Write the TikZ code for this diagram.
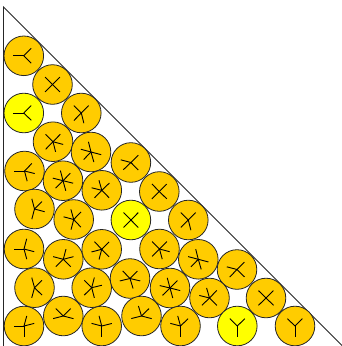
\documentclass[tikz,border=0pt]{standalone}
\usetikzlibrary{calc}
\definecolor{discorange}{RGB}{255,204,0}
\definecolor{discyellow}{RGB}{255,255,0}
\tikzset{
  disc/.style={circle,draw=black!85,line width=0.8pt,fill=discorange,minimum size=39.6pt,inner sep=0pt},
  hidisc/.style={disc,fill=discyellow},
  arm/.style={black,line width=0.9pt},
  wall/.style={black!85,line width=0.8pt}
}
\newcommand\mycontact[2]{\draw[arm] (c#1.center) -- ($(c#1.center)!10.5pt!(c#2.center)$);
  \draw[arm] (c#2.center) -- ($(c#2.center)!10.5pt!(c#1.center)$);}
\newcommand\leftwall[1]{\draw[arm] (c#1.center) -- ++(-10.5,0);}
\newcommand\hypwall[1]{\draw[arm] (c#1.center) -- ++(7.42,-7.42);}
\newcommand\bottomwall[1]{\draw[arm] (c#1.center) -- ++(0,10.5);}
\begin{document}
\begin{tikzpicture}[x=1pt,y=-1pt]
\useasboundingbox (0,0) rectangle (341,346);
\coordinate (A) at (3.5,7);
\coordinate (B) at (3.5,347.4);
\coordinate (C) at (343.9,347.4);
\draw[wall] (A) -- (B) -- (C) -- cycle;
\node[disc] (c1) at (23.8,55.8) {};
\node[disc] (c2) at (52.5,84.5) {};
\node[hidisc] (c3) at (23.8,113) {};
\node[disc] (c4) at (81.3,113) {};
\node[disc] (c5) at (53,141.7) {};
\node[disc] (c6) at (91,152) {};
\node[disc] (c7) at (130.9,162.5) {};
\node[disc] (c8) at (24.5,171) {};
\node[disc] (c9) at (63,180.7) {};
\node[disc] (c10) at (101.8,190.3) {};
\node[disc] (c11) at (159.3,191.5) {};
\node[disc] (c12) at (34.5,209) {};
\node[disc] (c13) at (73.7,219.5) {};
\node[hidisc] (c14) at (130.9,220) {};
\node[disc] (c15) at (188.3,220) {};
\node[disc] (c16) at (24,249) {};
\node[disc] (c17) at (63.3,259.3) {};
\node[disc] (c18) at (101.7,249.3) {};
\node[disc] (c19) at (159.5,249) {};
\node[disc] (c20) at (198.3,259.3) {};
\node[disc] (c21) at (237,269.5) {};
\node[disc] (c22) at (34.5,287.7) {};
\node[disc] (c23) at (91.7,287.7) {};
\node[disc] (c24) at (130,278.5) {};
\node[disc] (c25) at (170,288) {};
\node[disc] (c26) at (209.5,298) {};
\node[disc] (c27) at (266,298) {};
\node[disc] (c28) at (24,326) {};
\node[disc] (c29) at (63.3,316) {};
\node[disc] (c30) at (101.7,326) {};
\node[disc] (c31) at (141.5,316) {};
\node[disc] (c32) at (180.5,326) {};
\node[hidisc] (c33) at (237.3,326) {};
\node[disc] (c34) at (295,326) {};
\mycontact{1}{2}\mycontact{2}{3}\mycontact{2}{4}\mycontact{3}{5}\mycontact{4}{5}
\mycontact{4}{6}\mycontact{5}{6}\mycontact{5}{8}\mycontact{5}{9}\mycontact{6}{7}
\mycontact{6}{9}\mycontact{6}{10}\mycontact{7}{10}\mycontact{7}{11}\mycontact{8}{9}
\mycontact{8}{12}\mycontact{9}{10}\mycontact{9}{12}\mycontact{9}{13}\mycontact{10}{13}
\mycontact{10}{14}\mycontact{11}{14}\mycontact{11}{15}\mycontact{12}{13}\mycontact{12}{16}
\mycontact{13}{17}\mycontact{13}{18}\mycontact{14}{18}\mycontact{14}{19}\mycontact{15}{19}
\mycontact{15}{20}\mycontact{16}{17}\mycontact{16}{22}\mycontact{17}{18}\mycontact{17}{22}
\mycontact{17}{23}\mycontact{18}{23}\mycontact{18}{24}\mycontact{19}{20}\mycontact{19}{24}
\mycontact{19}{25}\mycontact{20}{21}\mycontact{20}{25}\mycontact{20}{26}\mycontact{21}{26}
\mycontact{21}{27}\mycontact{22}{28}\mycontact{22}{29}\mycontact{23}{24}\mycontact{23}{29}
\mycontact{23}{30}\mycontact{24}{25}\mycontact{24}{31}\mycontact{25}{26}\mycontact{25}{31}
\mycontact{25}{32}\mycontact{26}{32}\mycontact{26}{33}\mycontact{27}{33}\mycontact{27}{34}
\mycontact{28}{29}\mycontact{29}{30}\mycontact{30}{31}\mycontact{31}{32}
\leftwall{1}\leftwall{3}\leftwall{8}\leftwall{16}\leftwall{28}
\hypwall{1}\hypwall{2}\hypwall{4}\hypwall{7}\hypwall{11}\hypwall{15}\hypwall{21}\hypwall{27}\hypwall{34}
\bottomwall{28}\bottomwall{30}\bottomwall{32}\bottomwall{33}\bottomwall{34}
\end{tikzpicture}
\end{document}
